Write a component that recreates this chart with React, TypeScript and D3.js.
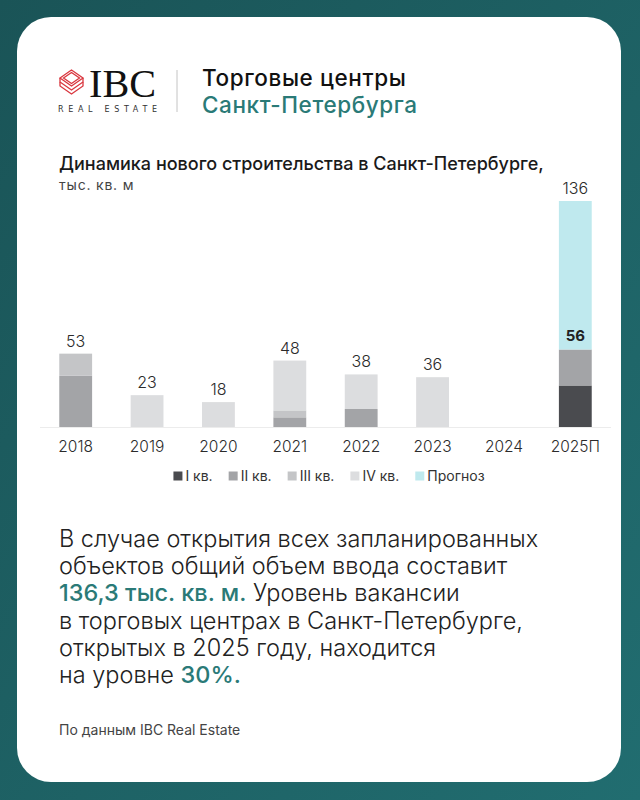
import * as d3 from "d3";

const years = ["2018", "2019", "2020", "2021", "2022", "2023", "2024", "2025П"];
const q1 = [0, 0, 0, 0, 0, 0, 0, 30];
const q2 = [37, 0, 0, 7, 13, 0, 0, 26];
const q3 = [16, 0, 0, 5, 0, 0, 0, 0];
const q4 = [0, 23, 18, 36, 25, 36, 0, 0];
const forecast = [0, 0, 0, 0, 0, 0, 0, 80];

const keys = ["q1", "q2", "q3", "q4", "forecast"];
const legendLabels = ["I кв.", "II кв.", "III кв.", "IV кв.", "Прогноз"];
const colors = ["#4a4b4f", "#a3a4a7", "#c4c5c7", "#dcdddf", "#bfe9ee"];

const paragraph = [
  [{ t: "В случае открытия всех запланированных" }],
  [{ t: "объектов общий объем ввода составит" }],
  [{ t: "136,3 тыс. кв. м.", hl: true }, { t: " Уровень вакансии" }],
  [{ t: "в торговых центрах в Санкт-Петербурге," }],
  [{ t: "открытых в 2025 году, находится" }],
  [{ t: "на уровне " }, { t: "30%.", hl: true }],
];

const W = 640;
const H = 800;
const FONT = "Inter, 'Noto Sans', sans-serif";
const TEAL = "#2a7a77";

let ctx: CanvasRenderingContext2D | null = null;
function measure(text: string, font: string) {
  if (!ctx) ctx = document.createElement("canvas").getContext("2d");
  if (!ctx) return text.length * 7;
  ctx.font = font;
  return ctx.measureText(text).width;
}

export default function App() {
  const rows = years.map((year, i) => ({
    year,
    q1: q1[i],
    q2: q2[i],
    q3: q3[i],
    q4: q4[i],
    forecast: forecast[i],
  }));
  const series = d3.stack<any>().keys(keys)(rows);
  const actual = rows.map((r) => r.q1 + r.q2 + r.q3 + r.q4);
  const totals = rows.map((r, i) => actual[i] + r.forecast);

  const x = d3.scaleBand().domain(years).range([40, 611]).paddingInner(0.54).paddingOuter(0.27);
  // the reference draws the forecast part compressed, so the scale bends at the last actual total
  const lastActual = actual[actual.length - 1];
  const y = d3
    .scaleLinear()
    .domain([0, lastActual, d3.max(totals) ?? 136])
    .range([427, 349.5, 201]);

  // legend layout
  const legendFont = `400 14px ${FONT}`;
  const items = legendLabels.map((l) => ({ l, w: measure(l, legendFont) }));
  const totalW = d3.sum(items, (d) => 12 + d.w) + 16 * (items.length - 1);
  let lx = 329 - totalW / 2;
  const legend = items.map((d, i) => {
    const pos = { ...d, x: lx, color: colors[i] };
    lx += 12 + d.w + 16;
    return pos;
  });

  return (
    <svg width={W} height={H} style={{ position: "fixed", left: 0, top: 0 }} fontFamily={FONT}>
      <defs>
        <linearGradient id="bg" x1="0" y1="0" x2="1" y2="1">
          <stop offset="0" stopColor="#1a5457" />
          <stop offset="1" stopColor="#216d70" />
        </linearGradient>
      </defs>
      <rect width={W} height={H} fill="url(#bg)" />
      <rect x={17} y={17} width={604} height={765} rx={34} fill="#ffffff" />

      {/* logo */}
      <g fill="none" stroke="#d9363e" strokeWidth={1.3} strokeLinejoin="miter">
        <path d="M60,78 L71.5,70 L83,78 L71.5,86 Z" />
        <path d="M63.5,78 L71.5,72.5 L79.5,78 L71.5,83.5 Z" />
        <path d="M60,78 L60,82 L71.5,90 L83,82 L83,78" />
        <path d="M60,82 L60,86 L71.5,94 L83,86 L83,82" />
      </g>
      <text x={89} y={97} fontFamily="'Liberation Serif', serif" fontSize={40} fill="#111" textLength={67} lengthAdjust="spacingAndGlyphs">
        IBC
      </text>
      <text x={58} y={112} fontSize={8} fill="#333" textLength={99} lengthAdjust="spacing" fontFamily="'DejaVu Sans', sans-serif">
        REAL ESTATE
      </text>
      <line x1={177} x2={177} y1={70} y2={112} stroke="#c4c4c4" strokeWidth={1} />
      <text x={202} y={86} fontSize={22.5} fontWeight={500} fill="#111" letterSpacing={0.6}>
        Торговые центры
      </text>
      <text x={202} y={113} fontSize={22.5} fontWeight={500} fill={TEAL} letterSpacing={0.6}>
        Санкт-Петербурга
      </text>

      {/* chart title */}
      <text x={59} y={170} fontSize={18} fontWeight={500} fill="#1a1a1a">
        Динамика нового строительства в Санкт-Петербурге,
      </text>
      <text x={59} y={190} fontSize={14} fill="#444" letterSpacing={0.8}>
        тыс. кв. м
      </text>

      {/* bars */}
      <line x1={40} x2={611} y1={427.5} y2={427.5} stroke="#ececec" />
      {series.map((s, si) => (
        <g key={s.key} fill={colors[si]}>
          {s.map((d, i) =>
            d[1] - d[0] > 0 ? (
              <rect
                key={years[i]}
                x={x(years[i])}
                y={y(d[1])}
                width={x.bandwidth()}
                height={y(d[0]) - y(d[1])}
              />
            ) : null
          )}
        </g>
      ))}
      {totals.map((t, i) =>
        t > 0 ? (
          <text
            key={years[i]}
            x={(x(years[i]) ?? 0) + x.bandwidth() / 2}
            y={y(t) - 7}
            textAnchor="middle"
            fontSize={16}
            fontWeight={300}
            fill="#2b2b2b"
          >
            {t}
          </text>
        ) : null
      )}
      {rows.map((r, i) =>
        r.forecast > 0 ? (
          <text
            key={years[i]}
            x={(x(years[i]) ?? 0) + x.bandwidth() / 2}
            y={y(actual[i]) - 9}
            textAnchor="middle"
            fontSize={15}
            fontWeight={700}
            fill="#222"
          >
            {actual[i]}
          </text>
        ) : null
      )}
      {years.map((yr) => (
        <text
          key={yr}
          x={(x(yr) ?? 0) + x.bandwidth() / 2}
          y={452}
          textAnchor="middle"
          fontSize={15.5}
          fontWeight={300}
          fill="#2b2b2b"
        >
          {yr}
        </text>
      ))}

      {/* legend */}
      {legend.map((d) => (
        <g key={d.l}>
          <rect x={d.x} y={471.5} width={9} height={9} fill={d.color} />
          <text x={d.x + 12} y={481} fontSize={14} fill="#333">
            {d.l}
          </text>
        </g>
      ))}

      {/* paragraph */}
      {paragraph.map((line, li) => (
        <text key={li} x={59} y={547 + li * 27.2} fontSize={23.5} fontWeight={300} fill="#222">
          {line.map((seg, si) => (
            <tspan key={si} fill={seg.hl ? TEAL : undefined} fontWeight={seg.hl ? 500 : undefined}>
              {seg.t}
            </tspan>
          ))}
        </text>
      ))}

      <text x={59} y={735} fontSize={14} fill="#444">
        По данным IBC Real Estate
      </text>
    </svg>
  );
}
